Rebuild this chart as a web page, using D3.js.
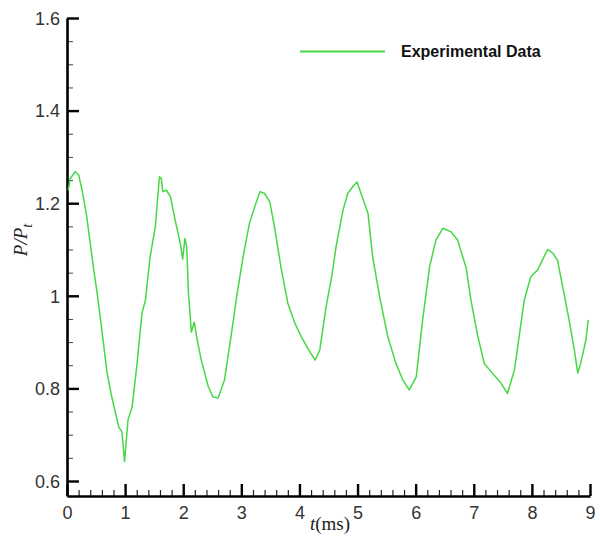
<!DOCTYPE html>
<html>
<head>
<meta charset="utf-8">
<script src="https://cdn.jsdelivr.net/npm/d3@7"></script>
<style>
  html, body { margin: 0; padding: 0; background: #fff; }
  svg { display: block; }
</style>
</head>
<body>
<svg id="chart" width="600" height="542"></svg>
<script>
// Measured pressure ratio over time
const timeMs = [0.02, 0.06, 0.14, 0.20, 0.26, 0.34, 0.46, 0.52, 0.60, 0.69, 0.77, 0.89, 0.945, 0.99,
  1.05, 1.12, 1.20, 1.29, 1.35, 1.43, 1.52, 1.59, 1.62, 1.65, 1.71, 1.78, 1.86, 1.95, 1.99, 2.03,
  2.06, 2.09, 2.14, 2.19, 2.23, 2.31, 2.43, 2.51, 2.60, 2.71, 2.83, 2.92, 3.03, 3.14, 3.23, 3.32,
  3.40, 3.49, 3.57, 3.69, 3.80, 3.92, 4.03, 4.18, 4.27, 4.35, 4.46, 4.56, 4.63, 4.75, 4.83, 4.92,
  4.99, 5.06, 5.18, 5.26, 5.38, 5.52, 5.66, 5.78, 5.89, 6.01, 6.12, 6.24, 6.35, 6.47, 6.61, 6.72,
  6.87, 6.95, 7.07, 7.18, 7.32, 7.47, 7.58, 7.70, 7.78, 7.87, 7.98, 8.10, 8.18, 8.27, 8.36, 8.44,
  8.53, 8.64, 8.73, 8.79, 8.84, 8.93, 8.97];
const pressureRatio = [1.228, 1.254, 1.268, 1.261, 1.228, 1.171, 1.056, 1.005, 0.926, 0.833, 0.782, 0.717, 0.706, 0.642,
  0.732, 0.760, 0.847, 0.962, 0.991, 1.084, 1.149, 1.257, 1.254, 1.225, 1.228, 1.214, 1.164, 1.113, 1.079, 1.124,
  1.106, 1.005, 0.922, 0.943, 0.912, 0.861, 0.804, 0.782, 0.779, 0.818, 0.919, 0.998, 1.084, 1.157, 1.192, 1.225,
  1.221, 1.203, 1.149, 1.056, 0.984, 0.941, 0.912, 0.879, 0.861, 0.883, 0.977, 1.045, 1.106, 1.185, 1.221, 1.236,
  1.246, 1.221, 1.178, 1.084, 0.998, 0.912, 0.854, 0.818, 0.797, 0.825, 0.948, 1.063, 1.121, 1.146, 1.138, 1.121,
  1.060, 0.991, 0.912, 0.854, 0.833, 0.811, 0.789, 0.840, 0.912, 0.991, 1.041, 1.056, 1.077, 1.100, 1.092, 1.077,
  1.020, 0.948, 0.883, 0.833, 0.854, 0.905, 0.948];

const xMajorTicks = [0, 1, 2, 3, 4, 5, 6, 7, 8, 9];
const xTickLabels = ["0", "1", "2", "3", "4", "5", "6", "7", "8", "9"];
const yMajorTicks = [0.6, 0.8, 1.0, 1.2, 1.4, 1.6];
const yTickLabels = ["0.6", "0.8", "1", "1.2", "1.4", "1.6"];
const xMinorTicks = d3.range(0, 46).map(i => i / 5);
const yMinorTicks = d3.range(0, 21).map(i => 0.6 + i * 0.05);
const seriesName = "Experimental Data";

const svg = d3.select("#chart");
const lineColor = "#45d845";

const x = d3.scaleLinear().domain([0, 9]).range([67, 590]);
const y = d3.scaleLinear().domain([0.5676, 1.6]).range([496, 18]);

// Minor ticks (inward, short)
svg.append("g")
  .attr("transform", "translate(0,496)")
  .call(d3.axisBottom(x).tickValues(xMinorTicks).tickSize(-6).tickSizeOuter(0).tickFormat(""))
  .call(g => g.select(".domain").remove())
  .call(g => g.selectAll("line").attr("stroke", "#222").attr("stroke-width", 1.2));
svg.append("g")
  .attr("transform", "translate(67,0)")
  .call(d3.axisLeft(y).tickValues(yMinorTicks).tickSize(-6).tickSizeOuter(0).tickFormat(""))
  .call(g => g.select(".domain").remove())
  .call(g => g.selectAll("line").attr("stroke", "#444").attr("stroke-width", 1));

// Major axes
const xAxis = svg.append("g")
  .attr("transform", "translate(0,496)")
  .call(d3.axisBottom(x).tickValues(xMajorTicks).tickSize(-12).tickSizeOuter(0)
    .tickPadding(7).tickFormat((d, i) => xTickLabels[i]));
const yAxis = svg.append("g")
  .attr("transform", "translate(67,0)")
  .call(d3.axisLeft(y).tickValues(yMajorTicks).tickSize(-12).tickSizeOuter(0)
    .tickPadding(7).tickFormat((d, i) => yTickLabels[i]));

[xAxis, yAxis].forEach(g => {
  g.select(".domain").attr("stroke", "#000").attr("stroke-width", 2.6);
  g.selectAll(".tick line").attr("stroke", "#000").attr("stroke-width", 2.4);
  g.selectAll(".tick text")
    .attr("fill", "#333")
    .style("font-family", "'Liberation Sans', Arial, sans-serif")
    .style("font-size", "18px");
});
xAxis.selectAll(".tick text").attr("dy", "0.9em");
yAxis.selectAll(".tick text").attr("dy", "0.35em");

// Data line
const line = d3.line()
  .x((d, i) => x(timeMs[i]))
  .y(d => y(d));
svg.append("path")
  .datum(pressureRatio)
  .attr("fill", "none")
  .attr("stroke", lineColor)
  .attr("stroke-width", 1.5)
  .attr("stroke-linejoin", "round")
  .attr("d", line);

// Axis titles
const yTitle = svg.append("text")
  .attr("transform", "translate(27,240) rotate(-90)")
  .attr("text-anchor", "middle")
  .style("font-family", "'Liberation Serif', 'Times New Roman', serif")
  .style("font-size", "19px")
  .style("font-style", "italic")
  .attr("fill", "#222");
yTitle.append("tspan").text("P/P");
yTitle.append("tspan").attr("dy", 5).style("font-size", "14px").text("t");

const xTitle = svg.append("text")
  .attr("x", 330).attr("y", 530)
  .attr("text-anchor", "middle")
  .style("font-family", "'Liberation Serif', 'Times New Roman', serif")
  .style("font-size", "19px")
  .attr("fill", "#222");
xTitle.append("tspan").style("font-style", "italic").text("t");
xTitle.append("tspan").text("(ms)");

// Legend
const legend = svg.append("g");
legend.append("line")
  .attr("x1", 300).attr("x2", 385).attr("y1", 51.5).attr("y2", 51.5)
  .attr("stroke", lineColor).attr("stroke-width", 1.8);
legend.append("text")
  .attr("x", 401).attr("y", 57)
  .style("font-family", "'Liberation Sans', Arial, sans-serif")
  .style("font-size", "16px")
  .style("font-weight", "bold")
  .attr("fill", "#111")
  .text(seriesName);
</script>
</body>
</html>
